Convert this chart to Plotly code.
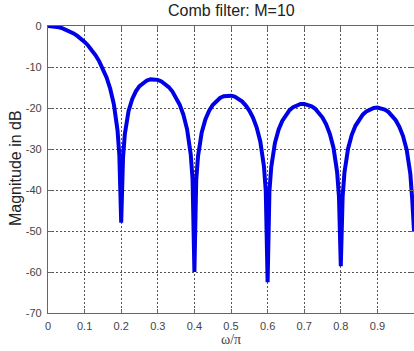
import plotly.graph_objects as go

# Normalized frequency (omega/pi)
freq = [0.00, 0.01, 0.02, 0.03, 0.04, 0.05, 0.06, 0.07, 0.08, 0.09,
        0.10, 0.11, 0.12, 0.13, 0.14, 0.15, 0.16, 0.17, 0.18, 0.19, 0.195,
        0.20, 0.205, 0.21, 0.22, 0.23, 0.24, 0.25, 0.26, 0.27, 0.28, 0.29,
        0.30, 0.31, 0.32, 0.33, 0.34, 0.35, 0.36, 0.37, 0.38, 0.39, 0.395,
        0.40, 0.405, 0.41, 0.42, 0.43, 0.44, 0.45, 0.46, 0.47, 0.48, 0.49,
        0.50, 0.51, 0.52, 0.53, 0.54, 0.55, 0.56, 0.57, 0.58, 0.59, 0.595,
        0.60, 0.605, 0.61, 0.62, 0.63, 0.64, 0.65, 0.66, 0.67, 0.68, 0.69,
        0.70, 0.71, 0.72, 0.73, 0.74, 0.75, 0.76, 0.77, 0.78, 0.79, 0.795,
        0.80, 0.805, 0.81, 0.82, 0.83, 0.84, 0.85, 0.86, 0.87, 0.88, 0.89,
        0.90, 0.91, 0.92, 0.93, 0.94, 0.95, 0.96, 0.97, 0.98, 0.99, 0.995,
        1.00]

# Magnitude in dB
mag_db = [0.00, -0.04, -0.14, -0.32, -0.57, -0.90, -1.31, -1.81, -2.40, -3.09,
          -3.89, -4.81, -5.89, -7.14, -8.62, -10.37, -12.53, -15.29, -19.11, -25.48, -31.69,
          -48.0, -32.11, -26.32, -20.80, -17.83, -15.94, -14.67, -13.82, -13.29, -13.02, -12.98,
          -13.14, -13.51, -14.09, -14.90, -15.98, -17.37, -19.20, -21.65, -25.20, -31.31, -37.40,
          -60.0, -37.58, -31.68, -25.95, -22.78, -20.70, -19.26, -18.25, -17.56, -17.14, -16.96,
          -16.99, -17.23, -17.69, -18.38, -19.34, -20.63, -22.35, -24.71, -28.15, -34.17, -40.22,
          -62.5, -40.32, -34.37, -28.55, -25.30, -23.15, -21.63, -20.54, -19.78, -19.29, -19.03,
          -19.00, -19.17, -19.57, -20.20, -21.10, -22.32, -23.98, -26.28, -29.67, -35.63, -41.65,
          -58.6, -41.69, -35.72, -29.85, -26.55, -24.34, -22.77, -21.63, -20.82, -20.28, -19.98,
          -19.89, -20.02, -20.37, -20.95, -21.80, -22.98, -24.60, -26.85, -30.20, -36.11, -42.11,
          -50.0]

x_ticks = [0, 0.1, 0.2, 0.3, 0.4, 0.5, 0.6, 0.7, 0.8, 0.9, 1]
x_tick_labels = ["0", "0.1", "0.2", "0.3", "0.4", "0.5", "0.6", "0.7", "0.8", "0.9", "1"]
y_ticks = [0, -10, -20, -30, -40, -50, -60, -70]
y_tick_labels = ["0", "-10", "-20", "-30", "-40", "-50", "-60", "-70"]

title_text = "Comb filter: M=10"
x_label = "ω/π"
y_label = "Magnitude in dB"

fig = go.Figure()
fig.add_trace(go.Scatter(
    x=freq, y=mag_db, mode="lines",
    line=dict(color="rgb(0,0,230)", width=4),
    showlegend=False, hoverinfo="skip",
))

tick_font = dict(family="Liberation Sans, Arial, sans-serif", size=11, color="#444")
axis_common = dict(
    showgrid=True, gridcolor="#555", griddash="2px,2px", gridwidth=1,
    showline=True, linecolor="#666", linewidth=1.2,
    ticks="inside", ticklen=4, tickcolor="#666",
    zeroline=False, tickfont=tick_font, automargin=False,
)

fig.update_layout(
    width=414, height=351,
    margin=dict(l=48, r=0, t=26, b=38),
    paper_bgcolor="white", plot_bgcolor="white",
    xaxis=dict(range=[0, 1], tickmode="array", tickvals=x_ticks, ticktext=x_tick_labels,
               mirror="ticks", ticklabelstandoff=3, **axis_common),
    yaxis=dict(range=[-70, 0], tickmode="array", tickvals=y_ticks, ticktext=y_tick_labels,
               mirror="ticks", ticklabelstandoff=3, **axis_common),
    annotations=[
        dict(text=title_text, xref="paper", yref="paper", x=0.5, y=(313 - 11) / 287,
             xanchor="center", yanchor="middle", showarrow=False,
             font=dict(family="Liberation Sans, Arial, sans-serif", size=16, color="#222")),
        dict(text=y_label, xref="paper", yref="paper", x=(15 - 48) / 366, y=(313 - 168) / 287,
             xanchor="center", yanchor="middle", textangle=-90, showarrow=False,
             font=dict(family="Liberation Sans, Arial, sans-serif", size=16, color="#222")),
        dict(text=x_label, xref="paper", yref="paper", x=(231 - 48) / 366, y=(313 - 340) / 287,
             xanchor="center", yanchor="middle", showarrow=False,
             font=dict(family="Liberation Serif, Times New Roman, serif", size=14, color="#444")),
    ],
)

# Remove the default page margin so the figure sits at the window's top-left corner.
fig.write_html("out.html", config={"displayModeBar": False},
               post_script="document.body.style.margin='0';")
